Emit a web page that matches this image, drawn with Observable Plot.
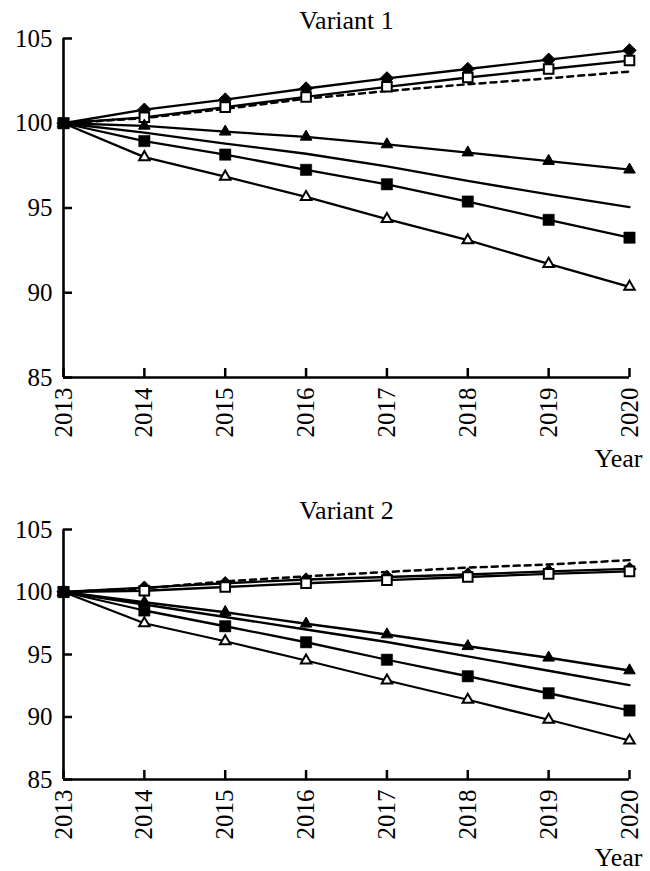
<!DOCTYPE html>
<html>
<head>
<meta charset="utf-8">
<script src="https://cdn.jsdelivr.net/npm/d3@7"></script>
<script src="https://cdn.jsdelivr.net/npm/@observablehq/plot@0.6"></script>
<style>
  html, body { margin: 0; padding: 0; background: #fff; }
  #chart svg { display: block; }
  #chart svg, #chart svg text { font-family: "Liberation Serif", "Times New Roman", Times, serif; }
</style>
</head>
<body>
<div id="chart"></div>
<script>
// ---- data ----
const years = [2013, 2014, 2015, 2016, 2017, 2018, 2019, 2020];
const yTicks = [85, 90, 95, 100, 105];
const titles = ["Variant 1", "Variant 2"];
const xLabel = "Year";

// Variant 1
const v1FilledDiamond = [100, 100.8, 101.4, 102.05, 102.65, 103.2, 103.75, 104.3];
const v1OpenSquare    = [100, 100.35, 100.95, 101.55, 102.15, 102.7, 103.2, 103.7];
const v1Dashed        = [100, 100.3, 100.85, 101.45, 101.9, 102.3, 102.65, 103.05];
const v1FilledTri     = [100, 99.85, 99.5, 99.2, 98.75, 98.27, 97.77, 97.26];
const v1Plain         = [100, 99.45, 98.8, 98.2, 97.45, 96.6, 95.8, 95.05];
const v1FilledSquare  = [100, 98.95, 98.15, 97.25, 96.4, 95.38, 94.3, 93.25];
const v1OpenTri       = [100, 98.0, 96.85, 95.65, 94.35, 93.1, 91.7, 90.35];

// Variant 2
const v2FilledDiamond = [100, 100.35, 100.7, 101.0, 101.2, 101.4, 101.65, 101.85];
const v2OpenSquare    = [100, 100.1, 100.4, 100.7, 100.95, 101.2, 101.45, 101.65];
const v2Dashed        = [100, 100.3, 100.85, 101.25, 101.6, 101.95, 102.2, 102.55];
const v2FilledTri     = [100, 99.18, 98.38, 97.46, 96.6, 95.66, 94.74, 93.72];
const v2Plain         = [100, 99.0, 98.0, 97.0, 96.0, 94.85, 93.7, 92.55];
const v2FilledSquare  = [100, 98.52, 97.26, 95.98, 94.58, 93.26, 91.9, 90.52];
const v2OpenTri       = [100, 97.5, 96.06, 94.52, 92.92, 91.38, 89.78, 88.12];

// ---- helpers ----
const rows = (values) => years.map((year, i) => ({year, value: values[i]}));

const font = "Liberation Serif, Times New Roman, Times, serif";
const LW = 2.3;

function panel(title, s, {height, marginTop, marginBottom, titleDy, yearDy}) {
  const lineMarks = [
    Plot.line(rows(s.diamond), {x: "year", y: "value", stroke: "black", strokeWidth: LW}),
    Plot.line(rows(s.openSquare), {x: "year", y: "value", stroke: "black", strokeWidth: LW}),
    Plot.line(rows(s.dashed), {x: "year", y: "value", stroke: "black", strokeWidth: 2.5, strokeDasharray: "6,5"}),
    Plot.line(rows(s.filledTri), {x: "year", y: "value", stroke: "black", strokeWidth: LW}),
    Plot.line(rows(s.plain), {x: "year", y: "value", stroke: "black", strokeWidth: LW}),
    Plot.line(rows(s.filledSquare), {x: "year", y: "value", stroke: "black", strokeWidth: LW}),
    Plot.line(rows(s.openTri), {x: "year", y: "value", stroke: "black", strokeWidth: LW})
  ];
  const dotMarks = [
    Plot.dot(rows(s.diamond), {x: "year", y: "value", symbol: "diamond2", r: 6, fill: "black", stroke: "black", strokeWidth: 1}),
    Plot.dot(rows(s.openSquare), {x: "year", y: "value", symbol: "square", r: 5.4, fill: "white", stroke: "black", strokeWidth: 2}),
    Plot.dot(rows(s.filledTri), {x: "year", y: "value", symbol: "triangle", r: 4.3, fill: "black", stroke: "black", strokeWidth: 1}),
    Plot.dot(rows(s.openTri), {x: "year", y: "value", symbol: "triangle", r: 3.9, fill: "white", stroke: "black", strokeWidth: 2}),
    Plot.dot(rows(s.filledSquare), {x: "year", y: "value", symbol: "square", r: 6.4, fill: "black", stroke: "black", strokeWidth: 0.5})
  ];
  return Plot.plot({
    width: 650,
    height,
    marginTop,
    marginBottom,
    marginLeft: 63,
    marginRight: 21,
    style: {fontFamily: font, fontSize: "25px", background: "white", color: "black", overflow: "visible"},
    x: {domain: [years[0], years[years.length - 1]]},
    y: {domain: [yTicks[0], yTicks[yTicks.length - 1]]},
    marks: [
      Plot.axisY({ticks: yTicks, tickSize: -9, tickPadding: 20, strokeWidth: 2.5, fontSize: 25, fontFamily: font, fontVariant: "normal", tickFormat: d => String(d), label: null}),
      Plot.axisX({ticks: years, tickSize: -9, tickPadding: 19, tickRotate: -90, strokeWidth: 2.5, fontSize: 25, fontFamily: font, fontVariant: "normal", tickFormat: d => String(d), label: null}),
      ...lineMarks,
      ...dotMarks,
      Plot.ruleX([years[0]], {stroke: "black", strokeWidth: 2.6}),
      Plot.ruleY([yTicks[0]], {stroke: "black", strokeWidth: 2.6}),
      Plot.text([title], {text: d => d, frameAnchor: "top", dy: titleDy, lineAnchor: "bottom", fontSize: 26, fontFamily: font}),
      Plot.text([xLabel], {text: d => d, frameAnchor: "bottom-right", dx: 13, dy: yearDy, textAnchor: "end", lineAnchor: "bottom", fontSize: 26, fontFamily: font})
    ]
  });
}

const chart = document.getElementById("chart");
chart.append(panel(titles[0], {
  diamond: v1FilledDiamond, openSquare: v1OpenSquare, dashed: v1Dashed,
  filledTri: v1FilledTri, plain: v1Plain, filledSquare: v1FilledSquare, openTri: v1OpenTri
}, {height: 490, marginTop: 38, marginBottom: 113, titleDy: -10, yearDy: 89}));
chart.append(panel(titles[1], {
  diamond: v2FilledDiamond, openSquare: v2OpenSquare, dashed: v2Dashed,
  filledTri: v2FilledTri, plain: v2Plain, filledSquare: v2FilledSquare, openTri: v2OpenTri
}, {height: 381, marginTop: 39, marginBottom: 92, titleDy: -11, yearDy: 86}));
</script>
</body>
</html>
